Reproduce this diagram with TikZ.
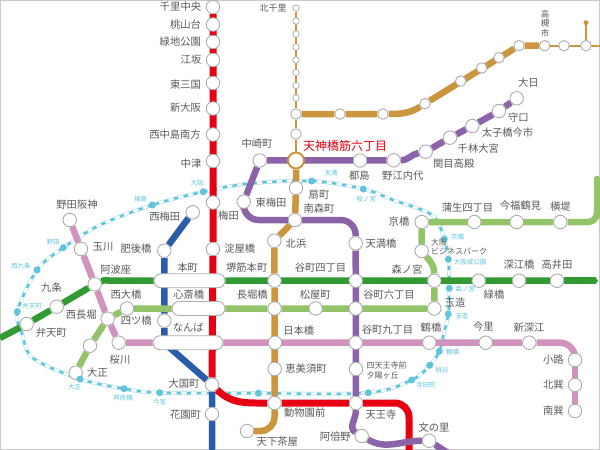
\documentclass[tikz,border=0pt]{standalone}
\usepackage{xcolor}
\usepackage{fontspec}
\setmainfont{Noto Sans CJK JP}
\usetikzlibrary{arrows.meta}
\definecolor{frame}{HTML}{C8C8C8}
\definecolor{ink}{HTML}{5A5A5A}
\definecolor{ring}{HTML}{ADADAD}
\definecolor{midosuji}{HTML}{E60012}
\definecolor{sakaisuji}{HTML}{CB963E}
\definecolor{tanimachi}{HTML}{8A63A8}
\definecolor{yotsubashi}{HTML}{2A5CAA}
\definecolor{chuo}{HTML}{339933}
\definecolor{nagahori}{HTML}{94C46A}
\definecolor{sennichi}{HTML}{CF93BD}
\definecolor{loopline}{HTML}{62C4DB}
\pgfdeclarelayer{lines}
\pgfsetlayers{lines,main}

\begin{document}
\begin{tikzpicture}[
  x=1pt, y=-1pt,
  stn/.style={circle, draw=ring, fill=white, line width=0.9pt, inner sep=0pt, minimum size=13.5pt},
  stnmid/.style={stn, minimum size=10.5pt},
  stnsmall/.style={stn, line width=0.7pt, minimum size=6.5pt},
  capsule/.style={draw=ring, fill=white, line width=0.9pt, rounded corners=7pt, inner sep=0pt, minimum height=14pt},
  hub/.style={circle, draw=sakaisuji, fill=white, line width=2pt, inner sep=0pt, minimum size=16pt},
  jrstop/.style={circle, fill=loopline, inner sep=0pt, minimum size=7pt},
  lbl/.style={text=ink, font=\fontsize{10.3}{11.5}\selectfont, inner sep=0pt, align=center},
  lblsmall/.style={text=ink, font=\fontsize{8}{9.2}\selectfont, inner sep=0pt, align=left},
  lbljr/.style={text=loopline, font=\fontsize{6.5}{7}\selectfont, inner sep=0pt},
  track/.style={line width=6.5pt, line join=round},
  thinline/.style={line width=2pt},
  jrouter/.style={draw=loopline!55, line width=3.8pt},
  jrinner/.style={draw=white, line width=2.6pt},
  jrdash/.style={draw=loopline, line width=2.4pt, dash pattern=on 4.5pt off 5.5pt}
]
\useasboundingbox (0,0) rectangle (600,450);

% main stations
\foreach \nm/\x/\y in {senri/213/7, momoyama/213/24.5, ryokuchi/213/42, esaka/213/60, higashimikuni/213/83,
    shinosaka/213/108.5, nishinaka/213/134.5, nakatsu/213/161, umeda/213/202.5, yodoyabashi/213/249,
    daikokucho/212/384.7, hanazono/212/414,
    ogimachi/296/188, minamimori/295/220, kitahama/274.3/240.7, sakaisuji/274.5/280.7, nagahoribashi/274.5/308.5,
    nipponbashi/275/342.7, ebisucho/274.7/369, dobutsuen/274.5/403, tengachaya/247/431,
    dainichi/516.7/98.3, moriguchi/499/111, taishibashi/472.3/126, senbayashi/450/137.7, sekime/425.7/151.7,
    noe/393.7/160.3, miyakojima/360/160.5, nakazaki/259.7/160.5, higashiumeda/243.7/201.7,
    tenmabashi/355.7/243.3, tanimachi4/355.7/280.7, tanimachi6/355.7/308.5, tanimachi9/355.7/342.7,
    shitennoji/356/369, tennoji/356/403, abeno/361.7/436, fuminosato/429/440.7,
    bentencho/26.7/324, kujo/56.7/306.7, awaza/94.7/284.3, morinomiya/434.3/280.7, midoribashi/478.7/280.7,
    fukaebashi/519/280.7, takaida/557/280.7,
    taisho/75.7/372.7, dome/90/345.7, nishinagahori/107.7/318.7, nishiohashi/127/308.5, matsuyamachi/315.7/308.5,
    tamatsukuri/434.3/308.5, obp/421.7/251, kyobashi/421.7/222, gamo/474.3/222, imafuku/516.7/222, yokozutsumi/560.3/222,
    nodahanshin/69.7/220, tamagawa/81/249, sakuragawa/118.7/342.7, tsuruhashi/429.3/342.7, imazato/485.7/342.7,
    shinfukae/529.3/342.7, shoji/575/360, kitatatsumi/575/385, minamitatsumi/575/411,
    nishiumeda/192.7/212.3, higobashi/164.3/250.7, yotsubashi/164.3/320.7}
  \node[stn] (\nm) at (\x,\y) {};

% smaller stations on the north and east branch
\foreach \nm/\y in {kitasenri/8, yamada/21, minamisenri/34, hankyu4/47, hankyu5/60, hankyu6/72.5, hankyu7/85.5, hankyu8/98}
  \node[stnsmall] (\nm) at (296,\y) {};
\foreach \nm/\x/\y in {awajinorth/296/114, awaji/296/134, gold1/340/114, gold2/383/114, gold3/425/103.7, gold4/460.7/81,
    gold5/481.7/68, gold6/499/57.7, gold7/519/45.7, takatsuki/544.7/45.7, gold8/564/45.7, gold9/586/45.7}
  \node[stnmid] (\nm) at (\x,\y) {};

\node[hub] (tenroku) at (296,160.5) {};
\node[capsule, minimum width=71pt] (honmachi) at (189.5,280.7) {};
\node[capsule, minimum width=53pt] (shinsaibashi) at (198.5,308.5) {};
\node[capsule, minimum width=70pt] (namba) at (188,342.7) {};

% loop line stops
\foreach \nm/\x/\y in {jrosaka/203.3/191.7, jrfukushima/152.3/205, jrnoda/63.3/247.7, jrnishikujo/37/270, jrbenten/17.3/311.7,
    jrtaisho/80/379, jrashihara/124/388.7, jrimamiya/159.7/392.7, jrshinimamiya/258.3/393.3, jrtennoji/368.3/392.7,
    jrteradacho/411.7/380, jrmomodani/429.7/365.3, jrtsuruhashi/439.3/351.3, jrtamatsukuri/448.3/314, jrmorinomiya/449.3/288.3,
    jrosakajo/448.3/259.3, jrkyobashi/444.3/239, jrsakuranomiya/363.3/189, jrtenma/311.7/181}
  \node[jrstop] (\nm) at (\x,\y) {};
\foreach \nm/\x/\y in {jra/100/225, jrb/22/333, jrc/33/358, jrd/432/215, jre/393/200, jrf/250/183.5, jrg/444/333}
  \coordinate (\nm) at (\x,\y);

% free line ends and bends
\coordinate (chuowest) at (0,338);
\coordinate (chuoeast) at (598,280.7);
\coordinate (chuobend) at (112,280.7);
\coordinate (yotsubend) at (164.3,343);
\coordinate (midoend) at (409,452);
\coordinate (tanimend) at (448,453);
\coordinate (nagaend) at (597,188);
\coordinate (nagaout) at (602,181);
\coordinate (sakaieast) at (602,45.7);
\node[circle, fill=sakaisuji, inner sep=0pt, minimum size=5pt] (hankyutip) at (586,22.7) {};

\begin{pgfonlayer}{lines}
\draw[frame, fill=white, line width=2pt] (0,0) rectangle (600,450);
\foreach \st in {jrouter,jrinner,jrdash}
  \draw[\st] plot[smooth cycle, tension=0.55] coordinates {(jrosaka) (jrfukushima) (jra) (jrnoda) (jrnishikujo) (jrbenten) (jrb) (jrc)
    (jrtaisho) (jrashihara) (jrimamiya) (jrshinimamiya) (jrtennoji) (jrteradacho) (jrmomodani) (jrtsuruhashi) (jrg) (jrtamatsukuri)
    (jrmorinomiya) (jrosakajo) (jrkyobashi) (jrd) (jre) (jrsakuranomiya) (jrtenma) (jrf)};

\draw[track, yotsubashi] (nishiumeda) -- (higobashi) -- (yotsubashi) -- (yotsubend) -- (daikokucho) -- (hanazono) -- (212,452);
\draw[track, midosuji, line width=7pt] (senri) -- (yodoyabashi) -- (daikokucho);
\draw[track, midosuji, line width=7pt] (daikokucho) to[out=-45,in=180] (dobutsuen) -- (tennoji);
\draw[track, midosuji, line width=7pt, rounded corners=14pt] (tennoji) -| (midoend);
\draw[thinline, sakaisuji] (kitasenri) -- (awajinorth);
\draw[thinline, sakaisuji] (awajinorth) -- (awaji) -- (tenroku);
\draw[track, sakaisuji] (tenroku) -- (ogimachi) -- (minamimori) -- (kitahama) -- (sakaisuji) -- (dobutsuen);
\draw[track, sakaisuji, rounded corners=14pt] (dobutsuen) |- (tengachaya);
\draw[track, sakaisuji] (awajinorth) -- (gold1) -- (gold2) to[out=0,in=212] (gold3) -- (gold7) -- (takatsuki);
\draw[thinline, sakaisuji] (takatsuki) -- (sakaieast);
\draw[thinline, sakaisuji] (gold9) -- (hankyutip);
\draw[track, tanimachi] (dainichi) -- (moriguchi) -- (taishibashi) -- (senbayashi) -- (sekime) to[out=190,in=0] (noe) -- (nakazaki) -- (higashiumeda);
\draw[track, tanimachi, rounded corners=15pt] (higashiumeda) |- (minamimori);
\draw[track, tanimachi, rounded corners=15pt] (minamimori) -| (tenmabashi);
\draw[track, tanimachi] (tenmabashi) -- (tennoji) to[out=-90,in=150] (abeno) to[out=-30,in=180] (fuminosato) -- (tanimend);
\draw[track, chuo] (chuowest) -- (bentencho) -- (kujo) -- (awaza) to[out=25,in=180] (chuobend) -- (honmachi) -- (takaida);
\draw[track, chuo, -{Triangle[length=2.5pt,width=6.5pt]}] (takaida) -- (chuoeast);
\draw[track, sennichi] (nodahanshin) -- (tamagawa) -- (awaza) -- (nishinagahori) -- (sakuragawa) -- (namba) -- (shinfukae);
\draw[track, sennichi, rounded corners=15pt] (shinfukae) -| (shoji);
\draw[track, sennichi] (shoji) -- (minamitatsumi);
\draw[track, nagahori] (taisho) -- (dome) -- (nishinagahori) -- (nishiohashi) -- (shinsaibashi) -- (nagahoribashi) -- (tamatsukuri) -- (morinomiya) to[out=90,in=-50] (obp) -- (kyobashi) -- (yokozutsumi);
\draw[track, nagahori, rounded corners=9pt] (yokozutsumi) -| (nagaend) to[out=90,in=185] (nagaout);
\end{pgfonlayer}

% labels
\foreach \nm/\x/\y/\txt in {senri/180.5/7/千里中央, momoyama/185.5/25/桃山台, ryokuchi/180.3/42/緑地公園, esaka/191/60/江坂,
    higashimikuni/185.5/85/東三国, shinosaka/185.5/108/新大阪, nishinaka/175/134.5/西中島南方, nakatsu/191/164/中津,
    umeda/228.5/215.5/梅田, nishiumeda/164.7/217/西梅田, nodahanshin/77/204.7/野田阪神, nakazaki/257/144/中崎町,
    higashiumeda/271/203/東梅田, ogimachi/319/195/扇町, minamimori/319/209/南森町, miyakojima/359.3/176/都島,
    noe/402.8/176/野江内代, sekime/453.7/163.7/関目高殿, senbayashi/478.3/148.5/千林大宮, taishibashi/507.5/133/太子橋今市,
    moriguchi/518.3/118/守口, dainichi/528.3/83/大日, kyobashi/399/222/京橋, gamo/467.5/208/蒲生四丁目,
    imafuku/520.5/206/今福鶴見, yokozutsumi/560.3/207/横堤, tamagawa/103/247/玉川, higobashi/136/249/肥後橋,
    yodoyabashi/239.7/249/淀屋橋, awaza/115.8/270/阿波座, honmachi/187.7/267.5/本町, sakaisuji/246.7/268/堺筋本町,
    kujo/51.5/288/九条, nishiohashi/126/295/西大橋, shinsaibashi/188.7/295/心斎橋, nagahoribashi/252.3/295/長堀橋,
    nishinagahori/81.3/315/西長堀, yotsubashi/136.2/321/四ツ橋, bentencho/51.3/332.5/弁天町, namba/188.3/327.5/なんば,
    nipponbashi/298.7/331/日本橋, sakuragawa/120/360/桜川, taisho/97.5/373/大正, ebisucho/306/369/恵美須町,
    daikokucho/184/384/大国町, hanazono/185.5/415/花園町, dobutsuen/304.7/413/動物園前, tengachaya/277.3/441.7/天下茶屋,
    kitahama/296/244/北浜, tanimachi4/320.5/268/谷町四丁目, matsuyamachi/315.3/295/松屋町, tenmabashi/381/244/天満橋,
    morinomiya/407/270/森ノ宮, fukaebashi/519/265/深江橋, takaida/557/265/高井田, midoribashi/494/295/緑橋,
    tanimachi6/389/295/谷町六丁目, tamatsukuri/455/302.5/玉造, tanimachi9/387.5/330/谷町九丁目, tsuruhashi/431/328/鶴橋,
    imazato/483.3/327/今里, shinfukae/529/328/新深江, shoji/553.3/360/小路, kitatatsumi/553.3/385/北巽,
    minamitatsumi/553.3/411/南巽, tennoji/381/415/天王寺, abeno/335.3/437/阿倍野, fuminosato/434/428/文の里}
  \node[lbl] (\nm-t) at (\x,\y) {\txt};

\node[lbl, font=\fontsize{9}{10}\selectfont] (kitasenri-t) at (273,8.5) {北千里};
\node[lbl, font=\fontsize{8.5}{9.3}\selectfont] (takatsuki-t) at (545,23.5) {高\\槻\\市};
\node[lbl, text=midosuji, font=\fontsize{12}{14}\selectfont] (tenroku-t) at (345,146) {天神橋筋六丁目};
\node[lblsmall] (shitennoji-t) at (386.7,370.5) {四天王寺前\\夕陽ヶ丘};
\node[lblsmall] (obp-t) at (459,246.5) {大阪\\ビジネスパーク};

\foreach \nm/\x/\y/\txt in {jrosaka/197/183/大阪, jrfukushima/140.5/199/福島, jrtenma/331/173/天満, jrsakuranomiya/366.3/199/桜ノ宮,
    jrnoda/53/241.7/野田, jrnishikujo/20.8/266/西九条, jrbenten/32/306/弁天町, jrtaisho/74.7/386.7/大正,
    jrashihara/123/397.7/芦原橋, jrimamiya/159.7/401.7/今宮, jrkyobashi/457.5/237/京橋, jrosakajo/470/261.7/大阪城公園,
    jrmorinomiya/465.3/288.7/森ノ宮, jrtamatsukuri/461.5/315.7/玉造, jrtsuruhashi/452.5/352/鶴橋,
    jrmomodani/442/369.7/桃谷, jrteradacho/426/385.3/寺田町}
  \node[lbljr] (\nm-t) at (\x,\y) {\txt};
\end{tikzpicture}
\end{document}
